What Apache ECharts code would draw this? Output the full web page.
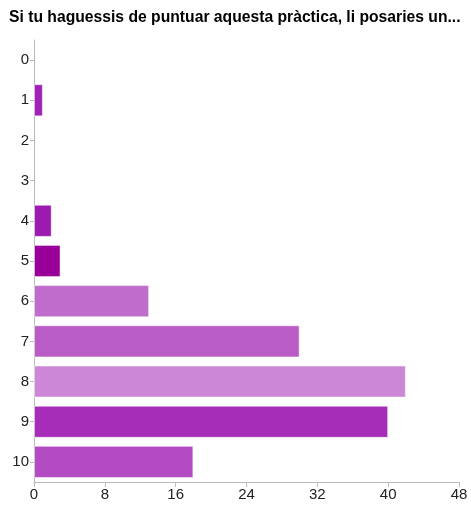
<!DOCTYPE html>
<html><head><meta charset="utf-8">
<script src="https://cdn.jsdelivr.net/npm/echarts@6/dist/echarts.min.js"></script>
<style>html,body{margin:0;padding:0;background:#fff}#c{width:471px;height:505px}</style>
</head><body><div id="c"></div>
<script>
const titleText = "Si tu haguessis de puntuar aquesta pràctica, li posaries un...";
const categories = ["0","1","2","3","4","5","6","7","8","9","10"];
const values = [0,1,0,0,2,3,13,30,42,40,18];
const barColors = ["#a020b8","#a020b8","#a020b8","#a020b8","#9c1ab0","#990099","#c06ccc","#b95cc5","#cc88d6","#a62db8","#b34cc2"];
const xTicks = [0,8,16,24,32,40,48];

const chart = echarts.init(document.getElementById('c'), null, {renderer:'canvas'});
chart.setOption({
  animation:false,
  title:{text:titleText,left:4,top:5,textStyle:{fontFamily:'Liberation Sans, Arial, sans-serif',fontSize:15.7,fontWeight:'bold',color:'#000'}},
  grid:{left:34,right:12,top:40,bottom:23,containLabel:false},
  xAxis:{type:'value',min:xTicks[0],max:xTicks[xTicks.length-1],interval:8,
    axisLine:{show:true,lineStyle:{color:'#bbb',width:1}},
    axisTick:{show:true,length:5,lineStyle:{color:'#bbb'}},
    splitLine:{show:false},
    axisLabel:{color:'#222',fontSize:15,fontFamily:'Liberation Sans, Arial, sans-serif',margin:5}},
  yAxis:{type:'category',data:categories,inverse:true,
    axisLine:{show:true,lineStyle:{color:'#bbb',width:1}},
    axisTick:{show:true,length:4,alignWithLabel:true,lineStyle:{color:'#bbb'}},
    axisLabel:{color:'#222',fontSize:15,fontFamily:'Liberation Sans, Arial, sans-serif',margin:5}},
  series:[{type:'bar',barCategoryGap:'20%',
    data:values.map((v,i)=>({value:v,itemStyle:{color:barColors[i],borderWidth:v>0?1:0}})),
    itemStyle:{borderColor:'rgba(255,255,255,0.5)',borderWidth:1}}]
});
</script></body></html>
